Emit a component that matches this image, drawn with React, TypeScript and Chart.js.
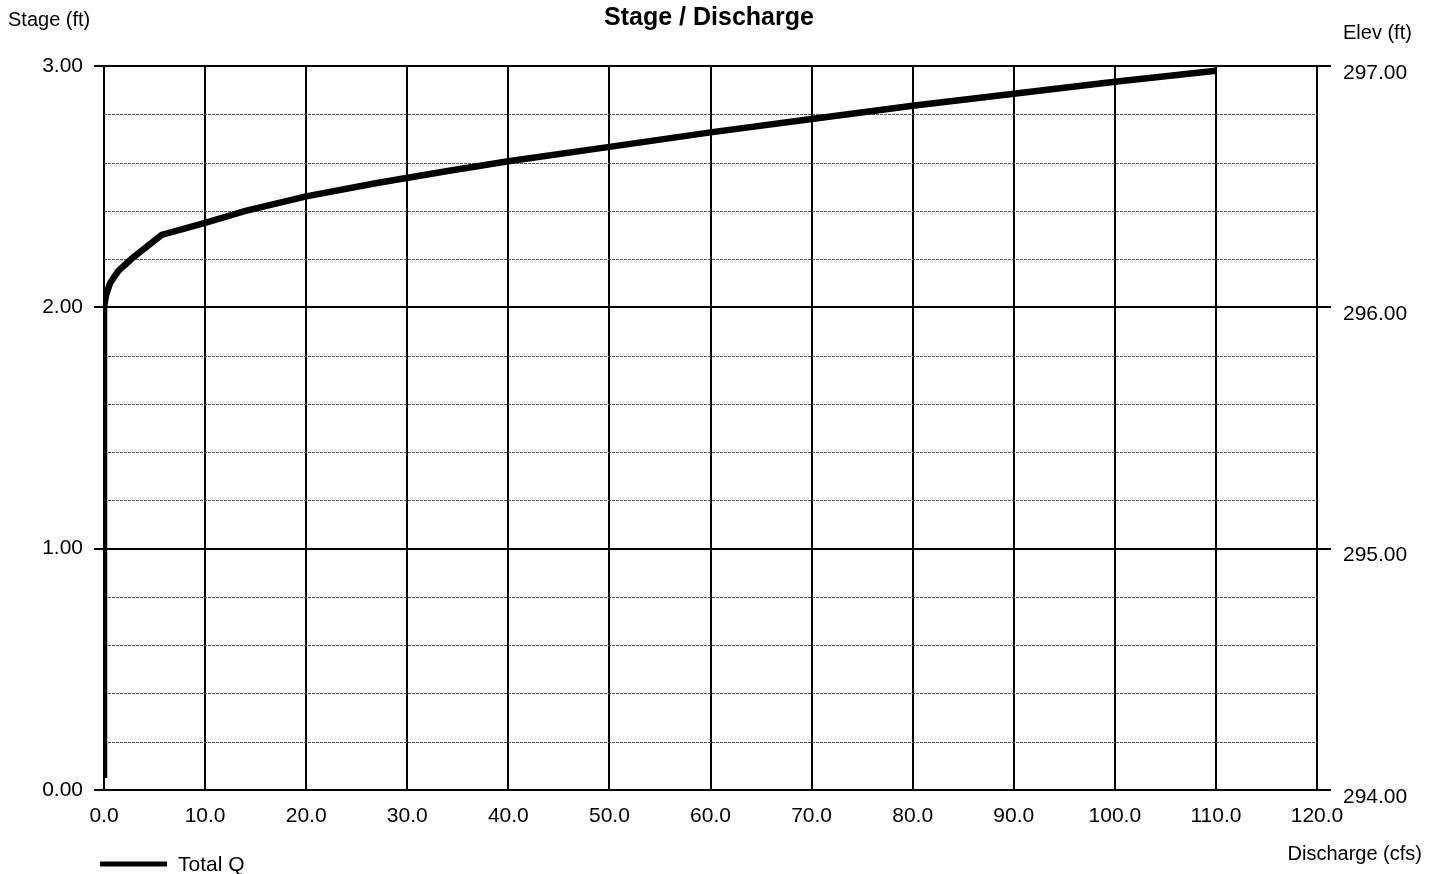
import React, { useEffect, useRef } from "react";
import { Chart, registerables } from "chart.js";

Chart.register(...registerables);

const chartTitle = "Stage / Discharge";
const seriesName = "Total Q";
const leftAxisTitle = "Stage (ft)";
const rightAxisTitle = "Elev (ft)";
const bottomAxisTitle = "Discharge (cfs)";

// Total Q rating curve
const dischargeCfs = [0, 0, 0.2, 0.6, 1.4, 2.7, 5.7, 10, 14, 20, 27, 34, 40, 50, 60, 70, 80, 90, 100, 110];
const stageFt = [0.05, 2.0, 2.05, 2.1, 2.15, 2.2, 2.3, 2.35, 2.4, 2.46, 2.515, 2.565, 2.605, 2.665, 2.725, 2.78, 2.835, 2.885, 2.935, 2.98];

const xMin = 0;
const xMax = 120;
const xStep = 10;
const stageMin = 0;
const stageMax = 3;
const stageStep = 1;
const minorStageStep = 0.2;
const elevMin = 294;
const elevMax = 297;

const FONT = "'Liberation Sans', Arial, Helvetica, sans-serif";

const textPlugin = {
  id: "textPlugin",
  beforeDatasetsDraw(chart: any) {
    const { ctx, chartArea, scales } = chart;
    const y = scales.y;
    ctx.save();
    ctx.strokeStyle = "#555";
    ctx.lineWidth = 1;
    ctx.setLineDash([3, 1]);
    for (let v = stageMin + minorStageStep; v < stageMax - 1e-6; v += minorStageStep) {
      if (Math.abs(v - Math.round(v)) < 1e-6) continue;
      const py = Math.round(y.getPixelForValue(v)) + 0.5;
      ctx.beginPath();
      ctx.moveTo(chartArea.left, py);
      ctx.lineTo(chartArea.right, py);
      ctx.stroke();
    }
    ctx.restore();
  },
  afterDraw(chart: any) {
    const { ctx } = chart;
    ctx.save();
    ctx.fillStyle = "#000";
    ctx.textBaseline = "middle";
    ctx.font = `bold 25px ${FONT}`;
    ctx.textAlign = "center";
    ctx.fillText(chartTitle, 709, 18);
    ctx.font = `20px ${FONT}`;
    ctx.textAlign = "left";
    ctx.fillText(leftAxisTitle, 8, 20);
    ctx.fillText(rightAxisTitle, 1343, 33);
    ctx.textAlign = "right";
    ctx.fillText(bottomAxisTitle, 1422, 854);
    // legend
    ctx.strokeStyle = "#000";
    ctx.lineWidth = 5;
    ctx.beginPath();
    ctx.moveTo(100, 864);
    ctx.lineTo(167, 864);
    ctx.stroke();
    ctx.textAlign = "left";
    ctx.font = `21px ${FONT}`;
    ctx.fillText(seriesName, 178, 865);
    ctx.restore();
  },
};

export default function App() {
  const ref = useRef<HTMLCanvasElement>(null);
  useEffect(() => {
    if (!ref.current) return;
    const chart = new Chart(ref.current, {
      type: "scatter",
      data: {
        datasets: [
          {
            label: seriesName,
            data: dischargeCfs.map((q, i) => ({ x: q, y: stageFt[i] })),
            showLine: true,
            borderColor: "#000",
            backgroundColor: "#000",
            borderWidth: 6.5,
            pointRadius: 0,
            tension: 0,
            yAxisID: "y",
          },
        ],
      },
      options: {
        animation: false,
        responsive: false,
        layout: { padding: { top: 66, left: 0, right: 0, bottom: 0 } },
        plugins: { legend: { display: false }, title: { display: false }, tooltip: { enabled: false } },
        scales: {
          x: {
            type: "linear",
            min: xMin,
            max: xMax,
            afterFit: (s: any) => { s.height = 84; },
            ticks: {
              stepSize: xStep,
              callback: (v: any) => Number(v).toFixed(1),
              color: "#000",
              font: { family: FONT, size: 21 },
              padding: 14,
              maxRotation: 0,
            },
            grid: { color: "#000", lineWidth: 2, drawTicks: false },
            border: { color: "#000", width: 2 },
          },
          y: {
            type: "linear",
            position: "left",
            min: stageMin,
            max: stageMax,
            afterFit: (s: any) => { s.width = 104; },
            ticks: {
              stepSize: stageStep,
              callback: (v: any) => Number(v).toFixed(2),
              color: "#000",
              font: { family: FONT, size: 21 },
              padding: 11,
            },
            grid: { color: "#000", lineWidth: 2, tickLength: 10 },
            border: { color: "#000", width: 2 },
          },
          yr: {
            type: "linear",
            position: "right",
            min: elevMin,
            max: elevMax,
            afterFit: (s: any) => { s.width = 122; },
            ticks: {
              stepSize: 1,
              callback: (v: any) => Number(v).toFixed(2),
              color: "#000",
              font: { family: FONT, size: 21 },
              padding: 12,
              labelOffset: 7,
            },
            grid: { color: "#000", lineWidth: 2, drawOnChartArea: false, tickLength: 14 },
            border: { color: "#000", width: 2 },
          },
        },
      },
      plugins: [textPlugin],
    } as any);
    return () => chart.destroy();
  }, []);
  return (
    <div style={{ position: "fixed", left: 0, top: 0, width: 1439, height: 874, background: "#fff" }}>
      <canvas ref={ref} width={1439} height={874} />
    </div>
  );
}
